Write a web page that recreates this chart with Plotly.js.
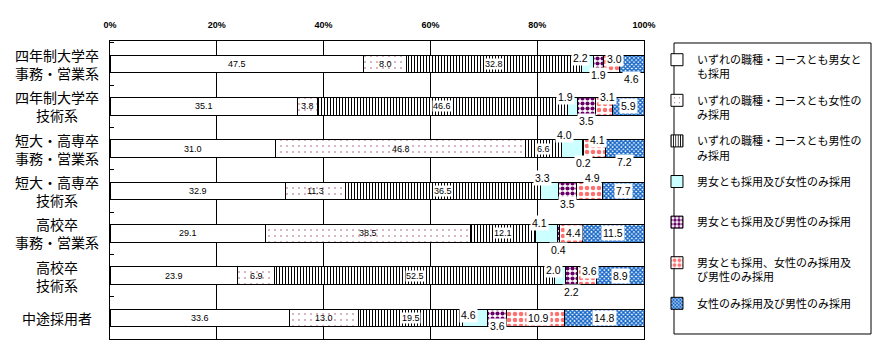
<!DOCTYPE html>
<html><head><meta charset="utf-8">
<script src="https://cdn.plot.ly/plotly-3.0.1.min.js"></script>
<style>html,body{margin:0;padding:0;background:#fff}#chart{width:887px;height:361px}</style>
</head><body><div id="chart"></div>
<script>
const categories = [
  "四年制大学卒<br>事務・営業系",
  "四年制大学卒<br>技術系",
  "短大・高専卒<br>事務・営業系",
  "短大・高専卒<br>技術系",
  "高校卒<br>事務・営業系",
  "高校卒<br>技術系",
  "中途採用者"
];
const seriesNames = [
  "いずれの職種・コースとも男女と<br>も採用",
  "いずれの職種・コースとも女性の<br>み採用",
  "いずれの職種・コースとも男性の<br>み採用",
  "男女とも採用及び女性のみ採用<br> ",
  "男女とも採用及び男性のみ採用<br> ",
  "男女とも採用、女性のみ採用及<br>び男性のみ採用",
  "女性のみ採用及び男性のみ採用<br> "
];
const s1 = [47.5, 35.1, 31.0, 32.9, 29.1, 23.9, 33.6];
const s2 = [8.0, 3.8, 46.8, 11.3, 38.5, 6.9, 13.0];
const s3 = [32.8, 46.6, 6.6, 36.5, 12.1, 52.5, 19.5];
const s4 = [2.2, 1.9, 4.0, 3.3, 4.1, 2.0, 4.6];
const s5 = [1.9, 3.5, 0.2, 3.5, 0.4, 2.2, 3.6];
const s6 = [3.0, 3.1, 4.1, 4.9, 4.4, 3.6, 10.9];
const s7 = [4.6, 5.9, 7.2, 7.7, 11.5, 8.9, 14.8];
const tickVals = [0, 20, 40, 60, 80, 100];
const tickText = ["0%", "20%", "40%", "60%", "80%", "100%"];

const series = [s1, s2, s3, s4, s5, s6, s7];

// ---- styling (not data) ----
const JP = '"Noto Sans CJK JP", "Noto Sans", sans-serif';
const NUM = '"Liberation Sans", Arial, sans-serif';
const styles = [
  {color: '#ffffff'},
  {color: '#ffffff', pattern: {shape: '.', fgcolor: '#993366', bgcolor: '#ffffff', size: 6, solidity: 0.04}},
  {color: '#ffffff', pattern: {shape: '|', fgcolor: '#000000', bgcolor: '#ffffff', size: 3, solidity: 0.34}},
  {color: '#ccffff'},
  {color: '#ffffff', pattern: {shape: '.', fgcolor: '#660066', bgcolor: '#ffffff', size: 5, solidity: 0.55}},
  {color: '#ffffff', pattern: {shape: '.', fgcolor: '#ff7070', bgcolor: '#ffffff', size: 6, solidity: 0.45}},
  {color: '#ffffff', pattern: {shape: 'x', fgcolor: '#1466c8', bgcolor: '#ffffff', size: 3, solidity: 0.7}}
];
// label nudges (pixels) for the small series 4..7, per row
const nudgeY = [
  [6, 9, 14, 13, 10, 6, 3],
  [-11, -15, -14, -13, -17, -16, -8],
  [5, 9, 9, 13, 0, 5, 0],
  [-15, 0, -13, 0, 0, 0, 0]
];
const nudgeX = [-7, 0, 3, 0];

const traces = series.map((vals, i) => ({
  type: 'bar', orientation: 'h',
  y: categories, x: vals,
  name: seriesNames[i],
  legendgroup: 'g' + i,
  marker: Object.assign({line: {color: '#000000', width: 1}}, styles[i]),
  hoverinfo: 'skip'
}));

const annotations = [];
categories.forEach((cat, r) => {
  const total = series.reduce((a, s) => a + s[r], 0);
  let cum = 0;
  series.forEach((s, i) => {
    const v = s[r];
    const start = cum / total * 100;
    const width = v / total * 100;
    cum += v;
    const small = i >= 3;
    annotations.push({
      x: start + width / 2, y: cat, xref: 'x', yref: 'y',
      text: v.toFixed(1), showarrow: false,
      font: {family: NUM, size: small ? 10.5 : 9, color: '#000'},
      bgcolor: (i === 1 || i === 0) ? 'rgba(0,0,0,0)' : '#ffffff',
      borderpad: small ? 1 : 0,
      xshift: small ? nudgeX[i - 3] : 0,
      yshift: small ? nudgeY[i - 3][r] : 0
    });
  });
  annotations.push({
    x: -0.1, xref: 'paper', y: cat, yref: 'y',
    xanchor: 'center', yanchor: 'middle', align: 'center',
    text: cat, showarrow: false,
    font: {family: JP, size: 14, color: '#000'}
  });
});

const layout = {
  width: 887, height: 361,
  margin: {l: 110, r: 243, t: 41, b: 22},
  paper_bgcolor: '#ffffff', plot_bgcolor: '#ffffff',
  barmode: 'stack', barnorm: 'percent', bargap: 0.585,
  showlegend: true,
  xaxis: {
    side: 'top', range: [0, 100], tickvals: tickVals, ticktext: tickText,
    showgrid: true, gridcolor: '#000000', gridwidth: 1,
    showline: true, mirror: true, linecolor: '#000000', linewidth: 1,
    ticks: '', ticklabelstandoff: 8, zeroline: false,
    tickfont: {family: NUM, size: 9, color: '#000', weight: 'bold'},
    fixedrange: true
  },
  yaxis: {
    type: 'category', autorange: 'reversed',
    showticklabels: false, showgrid: false, zeroline: false,
    ticks: 'inside', tickson: 'boundaries', ticklen: 4, tickcolor: '#000000', tickwidth: 1,
    showline: true, mirror: true, linecolor: '#000000', linewidth: 1,
    fixedrange: true
  },
  legend: {
    x: 1.0243, xanchor: 'left', y: 0.983, yanchor: 'top',
    traceorder: 'grouped', valign: 'top', tracegroupgap: 9,
    bgcolor: 'rgba(0,0,0,0)', borderwidth: 0,
    font: {family: JP, size: 11, color: '#000'}
  },
  shapes: [{
    type: 'rect', xref: 'paper', yref: 'paper',
    x0: 1.0562, x1: 1.4251, y0: 0.0168, y1: 0.9933,
    line: {color: '#000000', width: 1}, fillcolor: 'rgba(0,0,0,0)', layer: 'below'
  }],
  annotations: annotations
};

Plotly.newPlot('chart', traces, layout, {staticPlot: true, displayModeBar: false});
</script>
</body></html>
